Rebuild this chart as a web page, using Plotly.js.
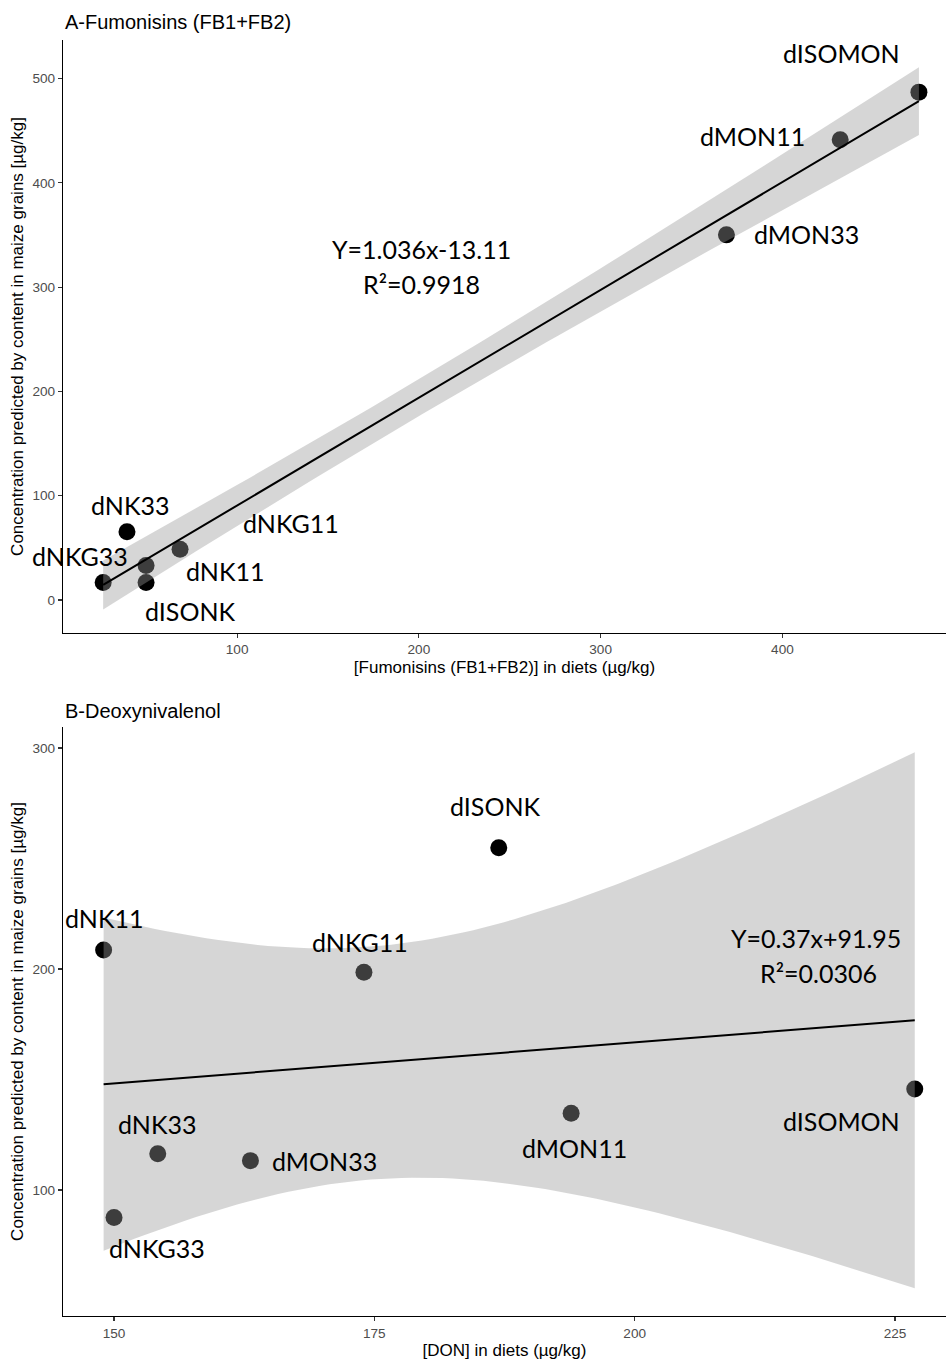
<!DOCTYPE html>
<html><head><meta charset="utf-8">
<script src="https://cdn.plot.ly/plotly-3.0.1.min.js"></script>
<style>html,body{margin:0;padding:0;background:#fff}#chart{width:946px;height:1362px}</style>
</head><body><div id="chart"></div>
<script>
// ---------- Panel A: Fumonisins ----------
const fumLabels = ['dISOMON','dMON11','dMON33','dNK33','dNKG11','dNK11','dISONK','dNKG33'];
const fumDiet   = [475.1, 431.8, 369.2, 39.4, 68.6, 49.9, 49.9, 26.3];
const fumGrain  = [487.0, 441.3, 350.1, 65.4, 48.6, 33.1, 16.6, 16.6];
const fumEquation = ['Y=1.036x-13.11', 'R²=0.9918'];
const fumXTicks = [100, 200, 300, 400];
const fumYTicks = [0, 100, 200, 300, 400, 500];

// ---------- Panel B: Deoxynivalenol ----------
const donLabels = ['dISONK','dNK11','dNKG11','dISOMON','dMON11','dNK33','dMON33','dNKG33'];
const donDiet   = [186.95, 149.0, 174.0, 226.9, 193.9, 154.2, 163.1, 150.0];
const donGrain  = [254.9, 208.6, 198.5, 145.7, 134.7, 116.4, 113.3, 87.6];
const donEquation = ['Y=0.37x+91.95', 'R²=0.0306'];
const donXTicks = [150, 175, 200, 225];
const donYTicks = [100, 200, 300];

const titleA = 'A-Fumonisins (FB1+FB2)';
const titleB = 'B-Deoxynivalenol';
const xTitleA = '[Fumonisins (FB1+FB2)] in diets (µg/kg)';
const xTitleB = '[DON] in diets (µg/kg)';
const yTitle = 'Concentration predicted by content in maize grains [µg/kg]';

// ---------- layout / style config (positions in data units) ----------
const labelPosA = {dISOMON:[432.4,524.4], dMON11:[383.4,444.7], dMON33:[413.2,350.8], dNK33:[41.1,91.5],
  dNKG11:[129.7,73.3], dNK11:[93.4,27.3], dISONK:[74.2,-11.1], dNKG33:[13.6,41.7]};
const eqPosA = [[201.3,336.3],[201.3,302.7]];
const labelPosB = {dISONK:[186.6,273.9], dNK11:[149.0,223.1], dNKG11:[173.6,212.3], dISOMON:[219.9,131.3],
  dMON11:[194.2,119.1], dNK33:[154.1,129.9], dMON33:[170.2,113.3], dNKG33:[154.1,73.6]};
const eqPosB = [[217.4,214.1],[217.7,198.3]];
const rangeA = {x:[4.2, 490.0], y:[-31.7, 537]};
const rangeB = {x:[145.1, 229.9], y:[43, 309.5]};

// ---------- linear model + 95% confidence band (like geom_smooth(method='lm')) ----------
const tTable = {1:12.706,2:4.303,3:3.182,4:2.776,5:2.571,6:2.447,7:2.365,8:2.306,9:2.262,10:2.228};
function lmBand(xs, ys, nGrid){
  const n = xs.length;
  const mx = xs.reduce((a,b)=>a+b,0)/n, my = ys.reduce((a,b)=>a+b,0)/n;
  let sxx=0, sxy=0;
  for(let i=0;i<n;i++){ sxx+=(xs[i]-mx)**2; sxy+=(xs[i]-mx)*(ys[i]-my); }
  const b = sxy/sxx, a = my-b*mx;
  let sse=0; for(let i=0;i<n;i++){ sse+=(ys[i]-(a+b*xs[i]))**2; }
  const s = Math.sqrt(sse/(n-2)), t = tTable[n-2] || 1.96;
  const x0 = Math.min(...xs), x1 = Math.max(...xs);
  const gx=[], fit=[], lo=[], hi=[];
  for(let k=0;k<nGrid;k++){
    const x = x0 + (x1-x0)*k/(nGrid-1);
    const yh = a+b*x, se = s*Math.sqrt(1/n + (x-mx)**2/sxx);
    gx.push(x); fit.push(yh); lo.push(yh-t*se); hi.push(yh+t*se);
  }
  return {gx, fit, lo, hi};
}

function panelTraces(xs, ys, xa, ya){
  const m = lmBand(xs, ys, 80);
  return [
    {type:'scatter', mode:'markers', x:xs, y:ys, xaxis:xa, yaxis:ya,
     marker:{size:17, color:'#000000', line:{width:0}}, hoverinfo:'skip', showlegend:false},
    {type:'scatter', mode:'lines', x:m.gx.concat(m.gx.slice().reverse()), y:m.hi.concat(m.lo.slice().reverse()),
     xaxis:xa, yaxis:ya, fill:'toself', fillcolor:'rgba(153,153,153,0.4)', line:{width:0, color:'rgba(0,0,0,0)'},
     hoverinfo:'skip', showlegend:false},
    {type:'scatter', mode:'lines', x:m.gx, y:m.fit, xaxis:xa, yaxis:ya,
     line:{color:'#000000', width:2}, hoverinfo:'skip', showlegend:false}
  ];
}

const traces = panelTraces(fumDiet, fumGrain, 'x', 'y').concat(panelTraces(donDiet, donGrain, 'x2', 'y2'));

const labelFont = {family:'Lato, "Open Sans", sans-serif', size:25, color:'#000000'};
const annotations = [];
fumLabels.forEach(l => annotations.push({x:labelPosA[l][0], y:labelPosA[l][1], xref:'x', yref:'y', text:l,
  showarrow:false, font:labelFont, xanchor:'center', yanchor:'middle'}));
fumEquation.forEach((t,i) => annotations.push({x:eqPosA[i][0], y:eqPosA[i][1], xref:'x', yref:'y', text:t,
  showarrow:false, font:labelFont, xanchor:'center', yanchor:'middle'}));
donLabels.forEach(l => annotations.push({x:labelPosB[l][0], y:labelPosB[l][1], xref:'x2', yref:'y2', text:l,
  showarrow:false, font:labelFont, xanchor:'center', yanchor:'middle'}));
donEquation.forEach((t,i) => annotations.push({x:eqPosB[i][0], y:eqPosB[i][1], xref:'x2', yref:'y2', text:t,
  showarrow:false, font:labelFont, xanchor:'center', yanchor:'middle'}));

const titleFont = {family:'"Liberation Sans", Arial, sans-serif', size:20, color:'#000000'};
annotations.push({xref:'paper', yref:'paper', x:0, y:1.0, yshift:18, xanchor:'left', yanchor:'middle',
  text:titleA, showarrow:false, font:titleFont});
annotations.push({xref:'paper', yref:'paper', x:0, y:0.4616, yshift:16, xanchor:'left', yanchor:'middle',
  text:titleB, showarrow:false, font:titleFont});

const tickFont = {family:'"Liberation Sans", Arial, sans-serif', size:13.6, color:'#4D4D4D'};
const axTitleFont = {family:'"Liberation Sans", Arial, sans-serif', size:17, color:'#000000'};
function axis(range, ticks, title, domain, anchor){
  return {range:range, tickvals:ticks, ticktext:ticks.map(String), domain:domain, anchor:anchor,
    showgrid:false, zeroline:false, showline:true, linecolor:'#000000', linewidth:1.2,
    ticks:'outside', ticklen:4, tickwidth:1.2, tickcolor:'#333333', tickfont:tickFont,
    title:{text:title, font:axTitleFont, standoff:4}, automargin:true, fixedrange:true};
}

const layout = {
  width:946, height:1362,
  margin:{l:63, r:0, t:40, b:46},
  paper_bgcolor:'#ffffff', plot_bgcolor:'#ffffff',
  font:{family:'"Liberation Sans", Arial, sans-serif'},
  showlegend:false,
  xaxis: axis(rangeA.x, fumXTicks, xTitleA, [0,1], 'y'),
  yaxis: axis(rangeA.y, fumYTicks, yTitle, [0.5353,1], 'x'),
  xaxis2: axis(rangeB.x, donXTicks, xTitleB, [0,1], 'y2'),
  yaxis2: axis(rangeB.y, donYTicks, yTitle, [0,0.4616], 'x2'),
  annotations: annotations
};

Plotly.newPlot('chart', traces, layout, {staticPlot:true, displayModeBar:false});
</script></body></html>
